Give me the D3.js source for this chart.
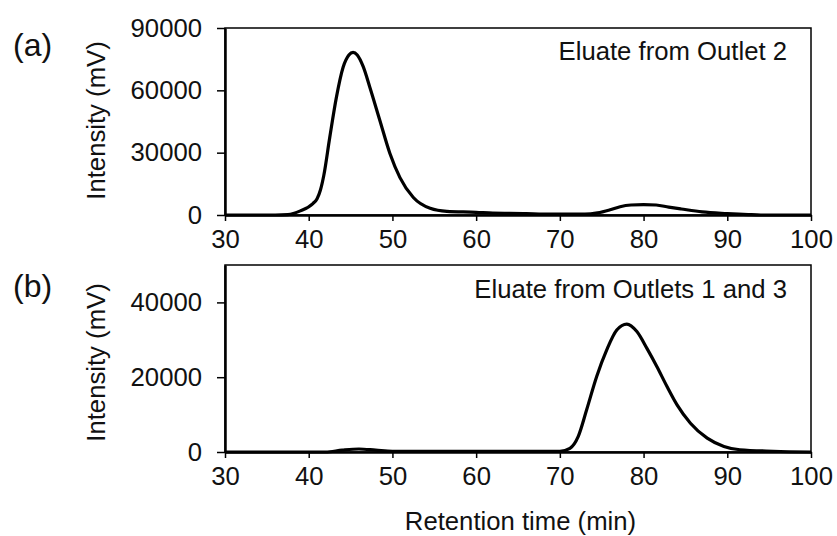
<!DOCTYPE html>
<html>
<head>
<meta charset="utf-8">
<script src="https://cdn.jsdelivr.net/npm/d3@7"></script>
<style>
  body { margin: 0; background: #fff; }
  text { font-family: "Liberation Sans", Arial, sans-serif; fill: #111; }
</style>
</head>
<body>
<svg id="chart" width="837" height="536"></svg>
<script>
// panel (a): eluate from outlet 2
const timeA = [30, 36, 37.5, 39, 40.5, 41, 41.4, 41.8, 42.5, 43.3, 44.1, 44.8, 45.3, 45.8, 46.5, 47.3, 48.5, 49.7, 50.9, 52.5, 54.5, 56.5, 60, 62, 66, 68, 73, 74.5, 76, 77.2, 78.5, 80, 81.5, 83, 84.5, 87, 90, 92.5, 94, 100];
const intensityA = [0, 0, 200, 2000, 5500, 7800, 12000, 19000, 37000, 56500, 71000, 77000, 78300, 77000, 71500, 61500, 45500, 29600, 18000, 8400, 3200, 1700, 1300, 900, 700, 400, 400, 1000, 2500, 4000, 4800, 5000, 4800, 3800, 2900, 1500, 700, 200, 0, 0];

// panel (b): eluate from outlets 1 and 3
const timeB = [30, 42, 44, 46, 48, 50, 60, 70, 71.2, 72.2, 73.2, 74.4, 75.6, 76.8, 78, 79.2, 80.4, 81.6, 82.8, 84, 85.6, 87.6, 89.6, 91.5, 95.5, 100];
const intensityB = [0, 0, 500, 800, 500, 200, 200, 200, 1000, 4200, 11300, 20200, 27300, 32600, 34200, 32200, 27700, 22800, 17500, 12600, 7700, 3700, 1500, 600, 200, 0];

const xTicks = [30, 40, 50, 60, 70, 80, 90, 100];
const yTicksA = [0, 30000, 60000, 90000];
const yTicksB = [0, 20000, 40000];

const panels = [
  { tag: "(a)", tagY: 55.5, note: "Eluate from Outlet 2", noteY: 32, t: timeA, v: intensityA, yMax: 90000, ticks: yTicksA, top: 28, labelShift: -1 },
  { tag: "(b)", tagY: 296.5, note: "Eluate from Outlets 1 and 3", noteY: 33, t: timeB, v: intensityB, yMax: 50000, ticks: yTicksB, top: 265, labelShift: 4 }
];

const left = 225, plotW = 586, plotH = 187;
const fs = "25.7px";
const svg = d3.select("#chart");

const x = d3.scaleLinear().domain([30, 100]).range([0, plotW]);

panels.forEach(p => {
  const g = svg.append("g").attr("transform", `translate(${left},${p.top})`);
  const y = d3.scaleLinear().domain([0, p.yMax]).range([plotH, 0]);

  // frame
  g.append("rect")
    .attr("width", plotW).attr("height", plotH)
    .attr("fill", "none").attr("stroke", "#000").attr("stroke-width", 1.5);

  const xAxis = g.append("g")
    .attr("transform", `translate(0,${plotH})`)
    .call(d3.axisBottom(x).tickValues(xTicks).tickSize(6).tickSizeOuter(0).tickPadding(8.5));
  const yAxis = g.append("g")
    .call(d3.axisLeft(y).tickValues(p.ticks).tickSize(8).tickSizeOuter(0).tickPadding(15).tickFormat(d3.format("d")));

  [xAxis, yAxis].forEach(a => {
    a.select(".domain").attr("stroke", "#000").attr("stroke-width", 2.5);
    a.selectAll(".tick line").attr("stroke", "#000").attr("stroke-width", 1.5);
    a.selectAll("text").style("font-size", fs).attr("fill", "#111")
      .style("font-family", '"Liberation Sans", Arial, sans-serif');
  });

  const line = d3.line()
    .x((d, i) => x(p.t[i]))
    .y(d => y(d))
    .curve(d3.curveMonotoneX);

  g.append("path")
    .datum(p.v)
    .attr("d", line)
    .attr("fill", "none")
    .attr("stroke", "#000")
    .attr("stroke-width", 3.2)
    .attr("stroke-linejoin", "round");

  g.append("text")
    .attr("x", 562).attr("y", p.noteY)
    .attr("text-anchor", "end")
    .style("font-size", fs)
    .text(p.note);

  svg.append("text")
    .attr("x", 13).attr("y", p.tagY)
    .style("font-size", "32px")
    .text(p.tag);

  svg.append("text")
    .attr("transform", `translate(104.5,${p.top + plotH / 2 + p.labelShift}) rotate(-90)`)
    .attr("text-anchor", "middle")
    .style("font-size", fs)
    .text("Intensity (mV)");
});

svg.append("text")
  .attr("x", 520.5).attr("y", 530)
  .attr("text-anchor", "middle")
  .style("font-size", fs)
  .text("Retention time (min)");
</script>
</body>
</html>
